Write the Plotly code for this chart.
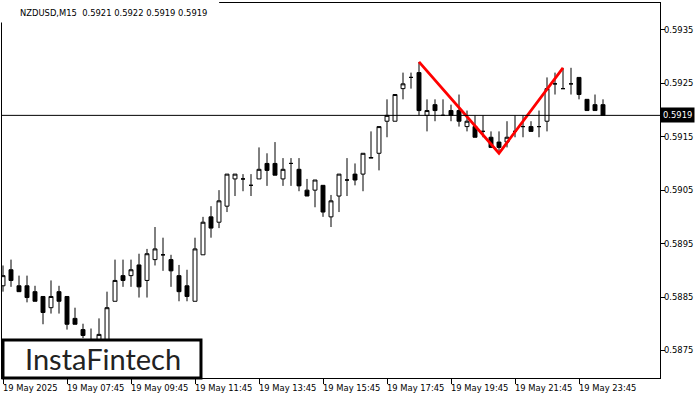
import plotly.graph_objects as go

# ---- data (NZDUSD M15) ----
opens = [0.58871, 0.58901, 0.58871, 0.58871, 0.58860, 0.58851, 0.58830, 0.58860, 0.58851, 0.58810,
         0.58789, 0.58768, 0.58763, 0.58760, 0.58842, 0.58890, 0.58890, 0.58910, 0.58881, 0.58920,
         0.58929, 0.58920, 0.58890, 0.58871, 0.58842, 0.58929, 0.59000, 0.58990, 0.59020, 0.59071,
         0.59071, 0.59059, 0.59071, 0.59100, 0.59100, 0.59071, 0.59100, 0.59089, 0.59050, 0.59050,
         0.59059, 0.59000, 0.59039, 0.59069, 0.59080, 0.59080, 0.59110, 0.59119, 0.59179, 0.59179,
         0.59240, 0.59261, 0.59270, 0.59190, 0.59210, 0.59190, 0.59199, 0.59199, 0.59169, 0.59169,
         0.59160, 0.59149, 0.59140, 0.59140, 0.59160, 0.59169, 0.59169, 0.59169, 0.59179, 0.59249,
         0.59240, 0.59249, 0.59261, 0.59220, 0.59210, 0.59210]
highs = [0.58909, 0.58920, 0.58890, 0.58890, 0.58871, 0.58851, 0.58881, 0.58871, 0.58851, 0.58830,
         0.58800, 0.58791, 0.58810, 0.58860, 0.58920, 0.58920, 0.58920, 0.58931, 0.58940, 0.58981,
         0.58961, 0.58929, 0.58910, 0.58901, 0.58961, 0.59000, 0.59020, 0.59050, 0.59080, 0.59080,
         0.59080, 0.59080, 0.59130, 0.59119, 0.59140, 0.59110, 0.59110, 0.59110, 0.59071, 0.59069,
         0.59059, 0.59041, 0.59080, 0.59110, 0.59100, 0.59119, 0.59160, 0.59169, 0.59220, 0.59229,
         0.59270, 0.59270, 0.59290, 0.59220, 0.59220, 0.59220, 0.59210, 0.59229, 0.59199, 0.59190,
         0.59190, 0.59160, 0.59160, 0.59179, 0.59190, 0.59190, 0.59179, 0.59199, 0.59261, 0.59270,
         0.59279, 0.59279, 0.59261, 0.59220, 0.59229, 0.59220]
lows = [0.58860, 0.58869, 0.58860, 0.58840, 0.58842, 0.58799, 0.58819, 0.58819, 0.58789, 0.58799,
        0.58773, 0.58750, 0.58755, 0.58750, 0.58842, 0.58869, 0.58869, 0.58849, 0.58849, 0.58909,
        0.58899, 0.58869, 0.58842, 0.58842, 0.58842, 0.58929, 0.58961, 0.58979, 0.59009, 0.59039,
        0.59048, 0.59039, 0.59071, 0.59058, 0.59078, 0.59058, 0.59058, 0.59048, 0.59039, 0.59018,
        0.59000, 0.58981, 0.59009, 0.59039, 0.59059, 0.59048, 0.59110, 0.59087, 0.59149, 0.59179,
        0.59220, 0.59240, 0.59190, 0.59160, 0.59179, 0.59190, 0.59179, 0.59169, 0.59160, 0.59149,
        0.59149, 0.59130, 0.59119, 0.59130, 0.59149, 0.59149, 0.59160, 0.59149, 0.59160, 0.59229,
        0.59240, 0.59229, 0.59220, 0.59199, 0.59199, 0.59190]
closes = [0.58890, 0.58881, 0.58860, 0.58849, 0.58842, 0.58821, 0.58851, 0.58842, 0.58799, 0.58799,
          0.58778, 0.58758, 0.58780, 0.58830, 0.58881, 0.58881, 0.58901, 0.58869, 0.58931, 0.58940,
          0.58929, 0.58899, 0.58860, 0.58851, 0.58940, 0.58990, 0.58979, 0.59030, 0.59080, 0.59080,
          0.59071, 0.59059, 0.59089, 0.59087, 0.59078, 0.59089, 0.59100, 0.59058, 0.59039, 0.59069,
          0.59009, 0.59030, 0.59080, 0.59069, 0.59069, 0.59119, 0.59111, 0.59169, 0.59190, 0.59229,
          0.59249, 0.59261, 0.59199, 0.59199, 0.59199, 0.59190, 0.59190, 0.59179, 0.59179, 0.59149,
          0.59160, 0.59130, 0.59130, 0.59149, 0.59160, 0.59169, 0.59160, 0.59169, 0.59240, 0.59249,
          0.59240, 0.59249, 0.59229, 0.59199, 0.59199, 0.59190]

tick_bars = [0, 8, 16, 24, 32, 40, 48, 56, 64, 72]
tick_labels = ["19 May 2025", "19 May 07:45", "19 May 09:45", "19 May 11:45", "19 May 13:45",
               "19 May 15:45", "19 May 17:45", "19 May 19:45", "19 May 21:45", "19 May 23:45"]
price_ticks = [0.5875, 0.5885, 0.5895, 0.5905, 0.5915, 0.5925, 0.5935]
pattern_bars = [52, 62, 70]  # double top: peak, trough, peak
last_price = 0.5919
title_text = "NZDUSD,M15\u00a0\u00a00.5921 0.5922 0.5919 0.5919"

bars = list(range(len(opens)))
FONT = "DejaVu Sans"
FS = 8.4

fig = go.Figure()
fig.add_trace(go.Candlestick(
    x=bars, open=opens, high=highs, low=lows, close=closes,
    increasing=dict(line=dict(color="black", width=1), fillcolor="white"),
    decreasing=dict(line=dict(color="black", width=1), fillcolor="black"),
    whiskerwidth=0, showlegend=False, hoverinfo="skip"))

pattern_y = [highs[pattern_bars[0]], lows[pattern_bars[1]], highs[pattern_bars[2]]]
fig.add_trace(go.Scatter(x=pattern_bars, y=pattern_y, mode="lines",
                         line=dict(color="#ff0000", width=2.8), showlegend=False, hoverinfo="skip"))

# last price horizontal line
fig.add_shape(type="line", xref="paper", x0=0, x1=1, yref="y", y0=last_price, y1=last_price,
              line=dict(color="black", width=1))

# title background and text
fig.add_shape(type="rect", xref="paper", yref="paper", x0=-0.01, x1=0.33, y0=0.948, y1=1.02,
              fillcolor="white", line=dict(width=0), layer="above")
fig.add_annotation(text=title_text, xref="paper", yref="paper", x=0.0243, y=1, yshift=-3,
                   xanchor="left", yanchor="top", showarrow=False,
                   font=dict(family=FONT, size=FS, color="black"))

# x tick labels (left aligned at tick)
for b, t in zip(tick_bars, tick_labels):
    fig.add_annotation(text=t, x=b, xref="x", y=0, yref="paper", xanchor="left", yanchor="top",
                       yshift=-3, xshift=-2, showarrow=False,
                       font=dict(family=FONT, size=FS, color="black"))

# y tick labels (right side)
for p in price_ticks:
    fig.add_annotation(text=f"{p:.4f}", xref="paper", x=1, yref="y", y=p,
                       xanchor="left", yanchor="middle", xshift=2, showarrow=False,
                       font=dict(family=FONT, size=FS, color="black"))

# last price label
fig.add_annotation(text=f"{last_price:.4f}", xref="paper", x=1, yref="y", y=last_price,
                   xanchor="left", yanchor="middle", xshift=0, showarrow=False,
                   bgcolor="black", borderpad=2,
                   font=dict(family=FONT, size=FS, color="white"))

# logo box
fig.add_shape(type="rect", xref="paper", yref="paper", x0=0.0015, x1=0.3024, y0=0.0, y1=0.1013,
              fillcolor="white", line=dict(color="black", width=3), layer="above")
fig.add_annotation(text="InstaFintech", xref="paper", yref="paper", x=0.154, y=0.051,
                   xanchor="center", yanchor="middle", showarrow=False,
                   font=dict(family="Lato", size=29, color="#222222"))

fig.update_layout(
    width=700, height=400,
    margin=dict(l=2, r=40, t=3, b=22),
    paper_bgcolor="white", plot_bgcolor="white",
    xaxis=dict(range=[-0.125, 82.125], rangeslider=dict(visible=False), showgrid=False,
               zeroline=False, showline=True, linecolor="black", linewidth=1, mirror=True,
               tickvals=tick_bars, ticks="outside", ticklen=5, tickcolor="black",
               showticklabels=False, fixedrange=True),
    yaxis=dict(range=[0.586984, 0.594003], side="right", showgrid=False, zeroline=False,
               showline=True, linecolor="black", linewidth=1, mirror=True,
               tickvals=price_ticks, ticks="outside", ticklen=4,
               tickcolor="black", showticklabels=False),
    font=dict(family=FONT, size=FS, color="black"),
    showlegend=False,
)

fig.write_html("out.html", config={"displayModeBar": False},
               post_script="document.body.style.margin='0px';document.body.style.overflow='hidden';")
